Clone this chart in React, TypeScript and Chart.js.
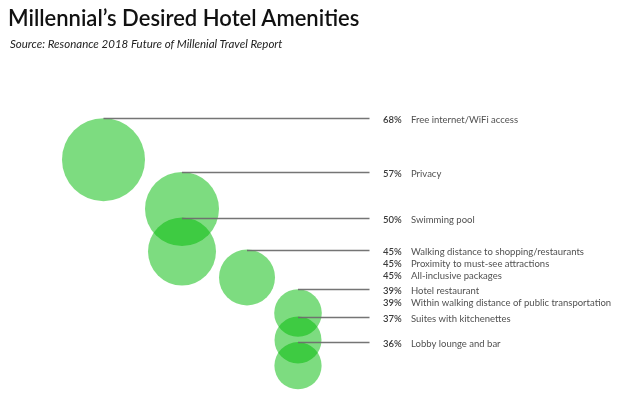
import React, { useEffect, useRef } from "react";
import { Chart, registerables } from "chart.js";

Chart.register(...registerables);

// Bubble layout data
const bubbleShare = [68, 57, 50, 45, 39, 37, 36];
const bubbleX = [103.5, 182, 182, 247, 298, 298, 298];
const bubbleY = [159.7, 209, 251.5, 277.5, 313, 340, 365.7];
const bubbleSize = [41.5, 37, 34, 28, 23.8, 23.5, 23.6];

// Labels
const amenities = [
  "Free internet/WiFi access",
  "Privacy",
  "Swimming pool",
  "Walking distance to shopping/restaurants",
  "Proximity to must-see attractions",
  "All-inclusive packages",
  "Hotel restaurant",
  "Within walking distance of public transportation",
  "Suites with kitchenettes",
  "Lobby lounge and bar",
];
const shares = [68, 57, 50, 45, 45, 45, 39, 39, 37, 36];
const bubbleOfLabel = [0, 1, 2, 3, 3, 3, 4, 4, 5, 6];

const TITLE = "Millennial\u2019s Desired Hotel Amenities";
const SUBTITLE = "Source: Resonance 2018 Future of Millenial Travel Report";

const leaderPlugin = {
  id: "leaders",
  afterDatasetsDraw(chart: any) {
    const ctx = chart.ctx;
    const meta = chart.getDatasetMeta(0);
    const lineEnd = 369.5;
    const pctX = 383;
    const labelX = 411;
    const rowGap = 11.8;
    ctx.save();
    meta.data.forEach((el: any, i: number) => {
      const r = el.options.radius;
      const y = Math.round(el.y - r) + 0.5;
      ctx.strokeStyle = "rgba(110,110,110,0.95)";
      ctx.lineWidth = 1.3;
      ctx.beginPath();
      ctx.moveTo(el.x, y);
      ctx.lineTo(lineEnd, y);
      ctx.stroke();
      let row = 0;
      amenities.forEach((name, j) => {
        if (bubbleOfLabel[j] !== i) return;
        const ty = y + 1.5 + row * rowGap;
        ctx.textBaseline = "middle";
        ctx.textAlign = "left";
        ctx.fillStyle = "#3a3a3a";
        ctx.font = "600 9.5px Lato";
        ctx.fillText(shares[j] + "%", pctX, ty);
        ctx.fillStyle = "#505050";
        ctx.font = "400 9.5px Lato";
        ctx.fillText(name, labelX, ty);
        row++;
      });
    });
    ctx.restore();
  },
};

export default function App() {
  const ref = useRef<HTMLCanvasElement | null>(null);
  useEffect(() => {
    if (!ref.current) return;
    const chart = new Chart(ref.current, {
      type: "bubble",
      data: {
        datasets: [
          {
            label: "Share",
            data: bubbleShare.map((v, i) => ({ x: bubbleX[i], y: bubbleY[i], r: bubbleSize[i], v })),
            backgroundColor: "rgba(0,186,6,0.51)",
            borderWidth: 0,
            hoverBorderWidth: 0,
            hoverRadius: 0,
            clip: false as any,
          },
        ],
      },
      options: {
        animation: false,
        responsive: true,
        maintainAspectRatio: false,
        layout: { padding: 0, autoPadding: false },
        events: [],
        scales: {
          x: { type: "linear", min: 0, max: 624, display: false },
          y: { type: "linear", min: 0, max: 407, reverse: true, display: false },
        },
        plugins: {
          legend: { display: false },
          tooltip: { enabled: false },
        },
      },
      plugins: [leaderPlugin],
    });
    return () => chart.destroy();
  }, []);

  return (
    <div style={{ position: "fixed", left: 0, top: 0, width: 624, height: 407, background: "#fff" }}>
      <canvas ref={ref} style={{ position: "absolute", left: 0, top: 0 }} />
      <div
        style={{
          position: "absolute",
          left: 8,
          top: 4,
          fontFamily: "Lato",
          fontWeight: 600,
          fontSize: 22,
          color: "#111",
          whiteSpace: "nowrap",
          letterSpacing: 0,
        }}
      >
        {TITLE}
      </div>
      <div
        style={{
          position: "absolute",
          left: 10,
          top: 37,
          fontFamily: "Lato",
          fontStyle: "italic",
          fontSize: 11.5,
          color: "#222",
          whiteSpace: "nowrap",
        }}
      >
        {SUBTITLE}
      </div>
    </div>
  );
}
